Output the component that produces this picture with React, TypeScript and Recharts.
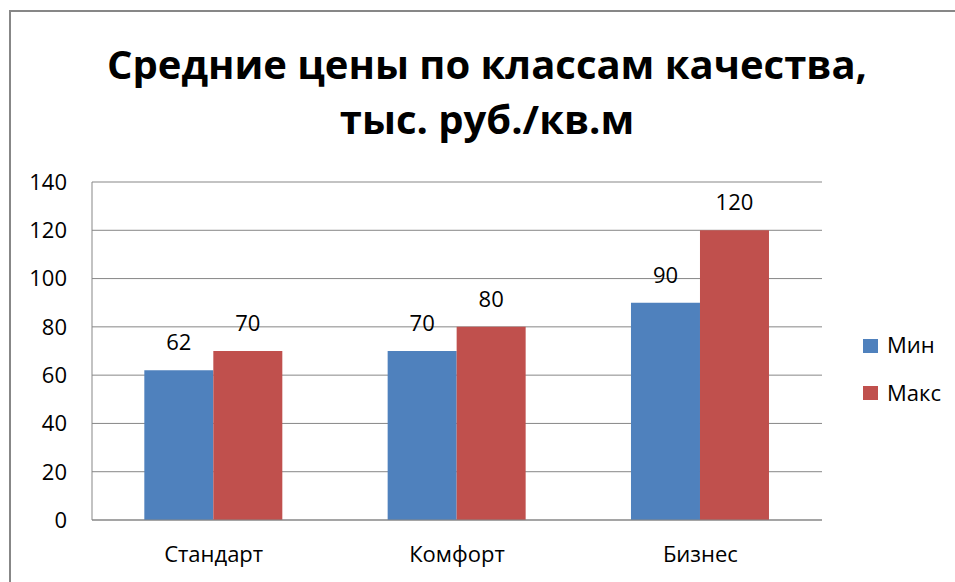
import React from 'react';
import { BarChart, Bar, XAxis, YAxis, CartesianGrid, LabelList } from 'recharts';

const categories = ['Стандарт', 'Комфорт', 'Бизнес'];
const minValues = [62, 70, 90];
const maxValues = [70, 80, 120];
const yTicks = [0, 20, 40, 60, 80, 100, 120, 140];
const titleLines = ['Средние цены по классам качества,', 'тыс. руб./кв.м'];
const seriesNames = ['Мин', 'Макс'];
const seriesKeys = ['min', 'max'];
const seriesColors = ['#4F81BD', '#C0504D'];

const data = categories.map((c, i) => ({ name: c, min: minValues[i], max: maxValues[i] }));

const FONT = "'Open Sans', 'Noto Sans', sans-serif";
const tickStyle = { fill: '#000', fontSize: 22, fontFamily: FONT };

export default function App() {
  return (
    <div style={{ position: 'fixed', left: 0, top: 0, width: 955, height: 582, overflow: 'hidden', background: '#fff' }}>
      <div style={{ position: 'absolute', left: 9, top: 10, width: 1000, height: 1000, border: '2px solid #878787' }} />
      <div style={{ position: 'absolute', left: 0, top: 0 }}>
        <BarChart
          width={955}
          height={582}
          data={data}
          margin={{ top: 182, right: 133, bottom: 32, left: 0 }}
          barCategoryGap="21.5%"
          barGap={0}
        >
          <CartesianGrid vertical={false} stroke="#878787" strokeWidth={1} />
          <XAxis
            dataKey="name"
            height={30}
            tickLine={false}
            tickSize={0}
            tickMargin={26}
            axisLine={{ stroke: '#878787' }}
            tick={tickStyle}
          />
          <YAxis
            width={92}
            domain={[0, 140]}
            ticks={yTicks}
            tickLine={false}
            tickSize={0}
            tickMargin={25}
            axisLine={{ stroke: '#878787' }}
            tick={tickStyle}
          />
          {seriesKeys.map((k, i) => (
            <Bar key={k} dataKey={k} name={seriesNames[i]} fill={seriesColors[i]} isAnimationActive={false}>
              <LabelList dataKey={k} position="top" offset={20} style={{ fill: '#000', fontSize: 22, fontFamily: FONT }} />
            </Bar>
          ))}
        </BarChart>
      </div>
      <svg width={955} height={582} style={{ position: 'absolute', left: 0, top: 0, pointerEvents: 'none' }}>
        {titleLines.map((t, i) => (
          <text key={t} x={487} y={79 + i * 55} textAnchor="middle" fontFamily={FONT} fontWeight="bold" fontSize={40} fill="#000">
            {t}
          </text>
        ))}
        {seriesNames.map((n, i) => (
          <g key={n}>
            <rect x={863} y={339 + i * 47} width={15} height={14} fill={seriesColors[i]} />
            <text x={887} y={353 + i * 48} fontFamily={FONT} fontSize={22} fill="#000">{n}</text>
          </g>
        ))}
      </svg>
    </div>
  );
}
